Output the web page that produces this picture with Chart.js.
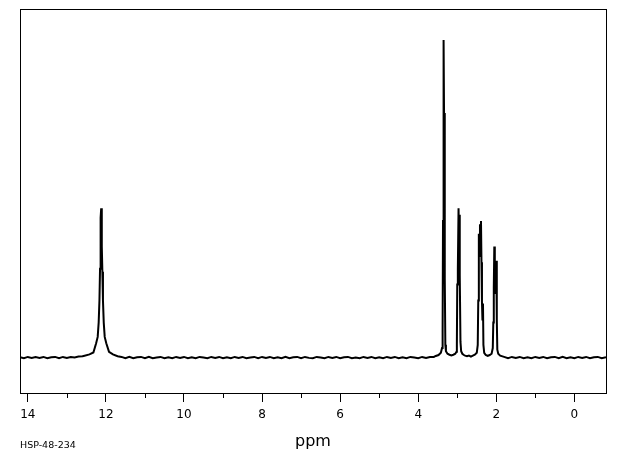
<!DOCTYPE html>
<html>
<head>
<meta charset="utf-8">
<script src="https://cdn.jsdelivr.net/npm/chart.js@4.4.0/dist/chart.umd.min.js"></script>
<style>
  body { margin: 0; background: #fff; }
  #wrap { position: relative; width: 620px; height: 455px; }
  #code { position: absolute; left: 20px; top: 440px; font: 9.5px 'DejaVu Sans', sans-serif; line-height: 10px; color: #000; }
</style>
</head>
<body>
<div id="wrap">
  <canvas id="nmr" width="620" height="455"></canvas>
  <div id="code">HSP-48-234</div>
</div>
<script>
// 1H NMR spectrum, [ppm, intensity] (tallest line = 100)
const baseLeft = [[14.2,0.1],[14.1,-0.2],[14.0,0.2],[13.9,-0.1],[13.8,0.2],[13.7,-0.1],[13.6,0.2],[13.5,-0.2],[13.4,0.1],[13.3,0.2],[13.2,-0.2],[13.1,0.2],[13.0,-0.1],[12.9,0.2],[12.8,0.0],[12.7,0.3],[12.6,0.4]];
const acidPeak = [[12.57,0.5],[12.42,1.0],[12.32,1.6],[12.25,4.5],[12.21,6.5],[12.185,11],[12.165,18],[12.15,28],[12.14,36],[12.13,44],[12.12,47],[12.11,43],[12.10,35],[12.09,27],[12.075,18],[12.055,11],[12.03,6.5],[11.99,4.5],[11.92,1.8],[11.82,1.0],[11.7,0.4]];
const baseMiddle = [[11.6,0.2],[11.5,-0.2],[11.4,0.2],[11.3,-0.2],[11.2,0.1],[11.1,0.2],[11.0,-0.2],[10.9,0.2],[10.8,-0.2],[10.7,0.0],[10.6,0.2],[10.5,-0.2],[10.4,0.1],[10.3,-0.2],[10.2,0.2],[10.1,-0.1],[10.0,0.2],[9.9,-0.2],[9.8,0.1],[9.7,-0.2],[9.6,0.2],[9.5,0.0],[9.4,-0.2],[9.3,0.2],[9.2,-0.1],[9.1,0.2],[9.0,-0.2],[8.9,0.1],[8.8,-0.2],[8.7,0.2],[8.6,-0.1],[8.5,0.2],[8.4,-0.2],[8.3,0.0],[8.2,0.2],[8.1,-0.2],[8.0,0.2],[7.9,-0.1],[7.8,0.2],[7.7,-0.2],[7.6,0.1],[7.5,-0.2],[7.4,0.2],[7.3,-0.2],[7.2,0.1],[7.1,0.2],[7.0,-0.2],[6.9,0.2],[6.8,-0.1],[6.7,-0.2],[6.6,0.2],[6.5,0.0],[6.4,-0.2],[6.3,0.2],[6.2,-0.1],[6.1,0.2],[6.0,-0.2],[5.9,0.1],[5.8,0.2],[5.7,-0.2],[5.6,0.0],[5.5,-0.2],[5.4,0.2],[5.3,-0.1],[5.2,0.2],[5.1,-0.2],[5.0,0.1],[4.9,-0.2],[4.8,0.2],[4.7,-0.1],[4.6,0.2],[4.5,-0.2],[4.4,0.1],[4.3,-0.2],[4.2,0.2],[4.1,0.0],[4.0,-0.2],[3.9,0.2],[3.8,-0.1],[3.7,0.2],[3.6,0.2],[3.55,0.5]];
const peak334 = [[3.48,0.8],[3.42,1.5],[3.39,3],[3.375,8],[3.365,43],[3.355,45],[3.345,100],[3.335,70],[3.325,77],[3.315,25],[3.305,4],[3.29,2],[3.25,1.2],[3.2,0.9],[3.15,0.7],[3.1,0.9],[3.05,1.2]];
const peak297 = [[3.02,1.8],[3.01,4],[3.0,23],[2.985,28],[2.967,47],[2.955,36],[2.942,45],[2.93,26],[2.918,5],[2.9,2],[2.87,1.2],[2.83,0.8],[2.8,0.6],[2.75,0.4],[2.7,0.6],[2.65,0.3],[2.6,0.6],[2.55,0.9]];
const peak239 = [[2.50,1.5],[2.475,4],[2.462,18],[2.45,30],[2.444,39],[2.432,32],[2.418,42],[2.405,35],[2.392,43],[2.38,30],[2.367,17.6],[2.355,12],[2.341,17],[2.33,4],[2.31,1.5],[2.27,0.8],[2.22,0.5],[2.17,0.8]];
const peak205 = [[2.12,1.2],[2.09,3],[2.077,11],[2.064,22],[2.051,35],[2.038,20],[2.026,24],[2.013,28],[2.0,30.5],[1.987,12],[1.974,2.5],[1.95,1.2],[1.9,0.6]];
const baseRight = [[1.8,0.2],[1.7,-0.2],[1.6,0.2],[1.5,-0.1],[1.4,0.2],[1.3,-0.2],[1.2,0.1],[1.1,-0.2],[1.0,0.2],[0.9,-0.1],[0.8,0.2],[0.7,-0.2],[0.6,0.1],[0.5,0.2],[0.4,-0.2],[0.3,0.2],[0.2,-0.2],[0.1,0.1],[0.0,-0.2],[-0.1,0.2],[-0.2,-0.1],[-0.3,0.2],[-0.4,-0.2],[-0.5,0.1],[-0.6,0.2],[-0.7,-0.2],[-0.81,0.1]];

const majorTicks = [14, 12, 10, 8, 6, 4, 2, 0];
const minorTicks = [13, 11, 9, 7, 5, 3, 1];

const spectrum = [].concat(baseLeft, acidPeak, baseMiddle, peak334, peak297, peak239, peak205, baseRight)
  .sort((a, b) => b[0] - a[0])
  .map(p => ({ x: p[0], y: p[1] }));

// frame round the plot + short minor ticks
const framePlugin = {
  id: 'frame',
  afterDraw(chart) {
    const { ctx, chartArea } = chart;
    const xs = chart.scales.x;
    ctx.save();
    ctx.strokeStyle = '#000';
    ctx.lineWidth = 1;
    ctx.strokeRect(chartArea.left + 0.5, chartArea.top + 0.5,
      chartArea.right - chartArea.left, chartArea.bottom - chartArea.top);
    ctx.beginPath();
    minorTicks.forEach(v => {
      const px = Math.round(xs.getPixelForValue(v)) + 0.5;
      ctx.moveTo(px, chartArea.bottom);
      ctx.lineTo(px, chartArea.bottom + 5);
    });
    ctx.stroke();
    ctx.restore();
  }
};

new Chart(document.getElementById('nmr'), {
  type: 'line',
  data: {
    datasets: [{
      data: spectrum,
      borderColor: '#000',
      borderWidth: 2,
      pointRadius: 0,
      tension: 0,
      fill: false
    }]
  },
  options: {
    responsive: false,
    animation: false,
    devicePixelRatio: 1,
    layout: { padding: { left: 20, right: 14, top: 9, bottom: 0 } },
    plugins: { legend: { display: false }, tooltip: { enabled: false } },
    scales: {
      x: {
        type: 'linear',
        reverse: true,
        min: -0.81,
        max: 14.2,
        afterBuildTicks(scale) {
          scale.ticks = majorTicks.map(v => ({ value: v }));
        },
        afterFit(scale) {
          scale.height = 62;
        },
        border: { display: false },
        grid: {
          drawOnChartArea: false,
          drawTicks: true,
          tickLength: 9,
          tickColor: '#000',
          tickWidth: 1
        },
        ticks: {
          color: '#000',
          padding: 6,
          maxRotation: 0,
          font: { family: 'DejaVu Sans', size: 12 }
        },
        title: {
          display: true,
          text: 'ppm',
          color: '#000',
          padding: { top: 0, bottom: 4 },
          font: { family: 'DejaVu Sans', size: 16 }
        }
      },
      y: {
        display: false,
        min: -11.16,
        max: 109.75
      }
    }
  },
  plugins: [framePlugin]
});
</script>
</body>
</html>
